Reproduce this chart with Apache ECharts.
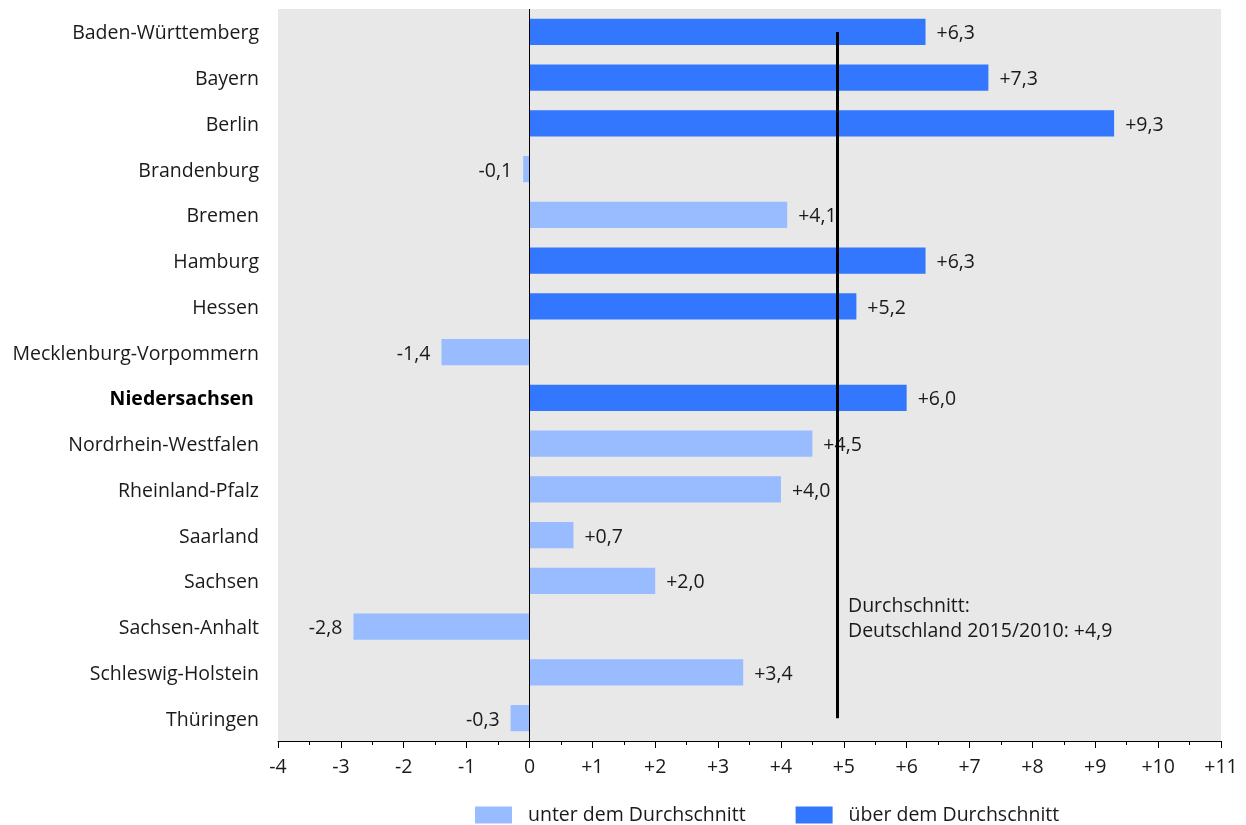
<!DOCTYPE html>
<html>
<head>
<meta charset="utf-8">
<script src="https://cdn.jsdelivr.net/npm/echarts@6/dist/echarts.min.js"></script>
<style>
html,body{margin:0;padding:0;background:#fff;}
#chart{width:1246px;height:825px;}
</style>
</head>
<body>
<div id="chart"></div>
<script>
const categories = ['Baden-Württemberg','Bayern','Berlin','Brandenburg','Bremen','Hamburg','Hessen','Mecklenburg-Vorpommern','Niedersachsen','Nordrhein-Westfalen','Rheinland-Pfalz','Saarland','Sachsen','Sachsen-Anhalt','Schleswig-Holstein','Thüringen'];
const values = [6.3, 7.3, 9.3, -0.1, 4.1, 6.3, 5.2, -1.4, 6.0, 4.5, 4.0, 0.7, 2.0, -2.8, 3.4, -0.3];
const average = 4.9;
const seriesNames = ['unter dem Durchschnitt', 'über dem Durchschnitt'];
const highlightCategory = 'Niedersachsen';
const annotationLines = ['Durchschnitt:', 'Deutschland 2015/2010: +4,9'];

const FONT = '"Open Sans", "Noto Sans", sans-serif';
const FS = 19.5;
const TXT = '#1a1a1a';
const fmt = v => (v > 0 ? '+' : '') + v.toFixed(1).replace('.', ',');

function seriesData(above) {
  return values.map(v => {
    const isAbove = v > average;
    if (isAbove !== above) return '-';
    return {
      value: v,
      label: { position: v >= 0 ? 'right' : 'left' }
    };
  });
}

const labelCfg = {
  show: true,
  distance: 11,
  fontFamily: FONT,
  fontSize: FS,
  color: TXT,
  offset: [0, 2],
  formatter: p => fmt(p.value)
};

const chart = echarts.init(document.getElementById('chart'), null, { renderer: 'canvas' });
chart.setOption({
  animation: false,
  textStyle: { fontFamily: FONT },
  grid: {
    left: 278, right: 25, top: 9, bottom: 84,
    show: true, backgroundColor: '#e8e8e8', borderWidth: 0
  },
  legend: {
    left: 475, top: 805, padding: 0,
    itemWidth: 37, itemHeight: 17, itemGap: 50,
    icon: 'rect',
    textStyle: { fontFamily: FONT, fontSize: FS, color: TXT, padding: [0, 0, 0, 11] },
    data: seriesNames
  },
  xAxis: {
    type: 'value',
    min: -4, max: 11, interval: 1,
    axisLine: { show: true, onZero: false, lineStyle: { color: '#000', width: 1 } },
    axisTick: { show: true, length: 7, lineStyle: { color: '#000' } },
    minorTick: { show: true, splitNumber: 2, length: 4, lineStyle: { color: '#000' } },
    splitLine: { show: false },
    axisLabel: {
      margin: 16, fontFamily: FONT, fontSize: FS, color: TXT,
      formatter: v => (v > 0 ? '+' : '') + v
    }
  },
  yAxis: {
    type: 'category',
    data: categories,
    inverse: true,
    axisLine: { show: false },
    axisTick: { show: false },
    axisLabel: {
      margin: 19, fontFamily: FONT, fontSize: FS, color: TXT,
      padding: [4, 0, 0, 0],
      formatter: v => v === highlightCategory ? '{b|' + v + ' }' : v,
      rich: { b: { fontFamily: FONT, fontSize: FS, fontWeight: 'bold', color: '#000' } }
    }
  },
  series: [
    {
      name: seriesNames[0], type: 'bar',
      data: seriesData(false),
      barCategoryGap: '43%', barGap: '-100%',
      itemStyle: { color: '#99bbff' },
      label: labelCfg,
      markLine: {
        silent: true, symbol: 'none',
        label: { show: false },
        lineStyle: { color: '#000', width: 1, type: 'solid' },
        data: [{ xAxis: 0 }]
      },
      z: 2
    },
    {
      name: seriesNames[1], type: 'bar',
      data: seriesData(true),
      barCategoryGap: '43%', barGap: '-100%',
      itemStyle: { color: '#3377ff' },
      label: labelCfg,
      markLine: {
        silent: true, symbol: 'none',
        label: { show: false },
        lineStyle: { color: '#000', width: 3, type: 'solid' },
        data: [[
          { coord: [average, categories[0]] },
          { coord: [average, categories[categories.length - 1]] }
        ]]
      },
      markPoint: {
        silent: true,
        symbol: 'circle', symbolSize: 1,
        itemStyle: { color: 'rgba(0,0,0,0)' },
        label: {
          show: true, position: 'right', distance: 10, offset: [0, -8],
          align: 'left', lineHeight: 25,
          fontFamily: FONT, fontSize: FS, color: TXT,
          formatter: annotationLines.join('\n')
        },
        data: [{ coord: [average, 'Sachsen-Anhalt'] }]
      },
      z: 3
    }
  ]
});
</script>
</body>
</html>
